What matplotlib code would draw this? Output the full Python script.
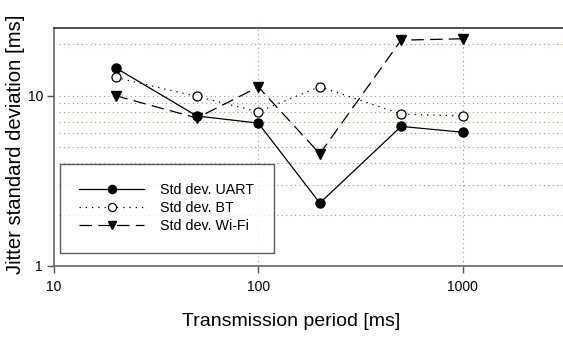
import matplotlib
matplotlib.use("Agg")
import matplotlib.pyplot as plt

plt.rcParams["font.family"] = ["Liberation Sans", "DejaVu Sans"]

# data
periods = [20, 50, 100, 200, 500, 1000]
std_uart = [14.6, 7.6, 6.9, 2.34, 6.6, 6.1]
std_bt = [12.8, 9.9, 8.05, 11.3, 7.8, 7.6]
std_wifi = [10.0, 7.4, 11.25, 4.56, 21.2, 21.6]

x_ticks = [10, 100, 1000]
y_ticks = [1, 10]
y_grid = [2, 3, 4, 5, 6, 7, 8, 9, 20]

fig = plt.figure(figsize=(5.63, 3.37), dpi=100)
ax = fig.add_axes([0.096, 0.211, 0.904, 0.706])
ax.set_xscale("log")
ax.set_yscale("log")
ax.set_xlim(10, 3100)
ax.set_ylim(1, 25)

# grid: dotted, horizontal at minor values, vertical at decades
grid_kw = dict(color="#a89878", linestyle=(0, (1, 3)), linewidth=0.8, zorder=0)
for y in y_grid + [10]:
    ax.axhline(y, xmin=0.01, **grid_kw)
for x in [100, 1000]:
    ax.axvline(x, **grid_kw)

ax.plot(periods, std_uart, color="black", linewidth=0.9, marker="o",
        markersize=6.5, label="Std dev. UART", zorder=3)
ax.plot(periods, std_bt, color="black", linewidth=0.9, linestyle=(0, (1, 4)),
        marker="o", markersize=6.5, markerfacecolor="white", markeredgewidth=0.9,
        label="Std dev. BT", zorder=3)
ax.plot(periods, std_wifi, color="black", linewidth=0.9, linestyle=(0, (10, 5)),
        marker="v", markersize=6.5, label="Std dev. Wi-Fi", zorder=3)

ax.set_xticks(x_ticks)
ax.set_xticklabels([str(v) for v in x_ticks])
ax.set_yticks(y_ticks)
ax.set_yticklabels([str(v) for v in y_ticks])
ax.minorticks_off()
ax.tick_params(labelsize=10, length=5, width=1, color="#555555", pad=5)
ax.tick_params(axis="y", pad=3)

ax.spines["right"].set_visible(False)
ax.spines["left"].set_color("#666666")
ax.spines["bottom"].set_color("#666666")
ax.spines["top"].set_color("#333333")
for s in ax.spines.values():
    s.set_linewidth(1.2)

ax.set_xlabel("Transmission period [ms]", fontsize=14)
ax.xaxis.set_label_coords(0.466, -0.2)
ax.set_ylabel("Jitter standard deviation [ms]", fontsize=14.6)
ax.yaxis.set_label_coords(-0.058, 0.51)

leg = ax.legend(loc="lower left", bbox_to_anchor=(0.012, 0.055), fontsize=10.3,
                frameon=True, fancybox=False, edgecolor="#333333",
                handlelength=4.5, labelspacing=0.3, borderpad=1.35,
                handletextpad=1.15, borderaxespad=0, markerscale=0.9)
leg.get_frame().set_linewidth(1.0)

fig.savefig("out.png", dpi=100)
